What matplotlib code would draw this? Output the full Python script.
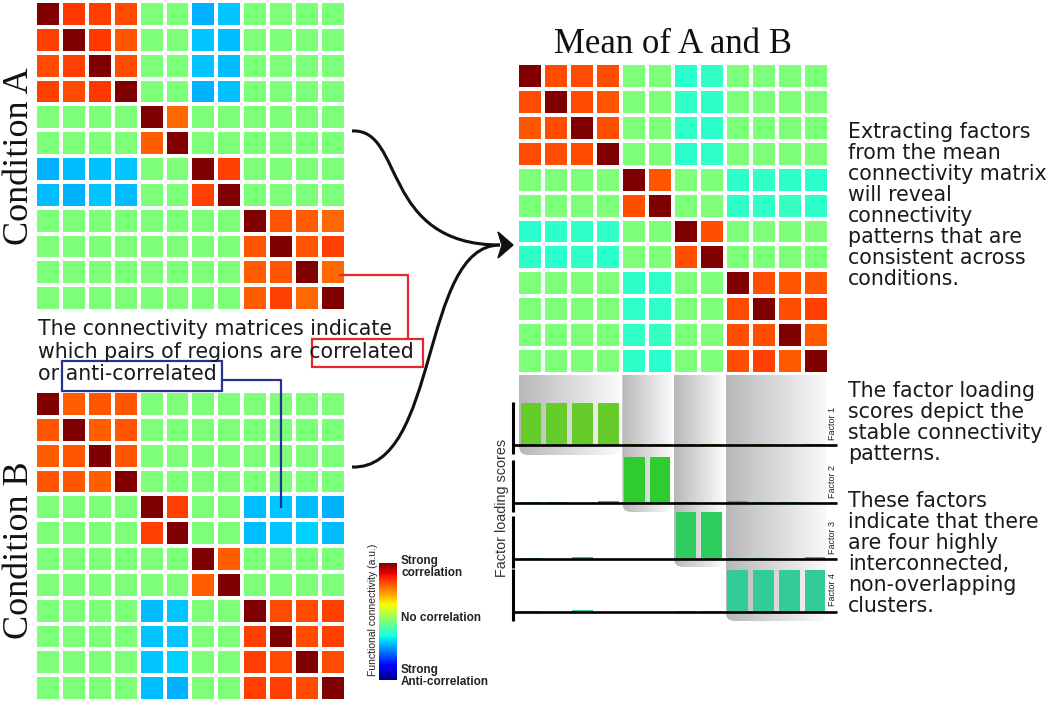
import matplotlib
matplotlib.use("Agg")
import matplotlib.pyplot as plt
import numpy as np
from matplotlib.path import Path
from matplotlib.patches import PathPatch, Polygon, Rectangle

# connectivity values (-1 = strong anti-correlation, 1 = strong correlation)
cond_a = [
    [1.00, 0.70, 0.68, 0.66, 0, 0, -0.40, -0.36, 0, 0, 0, 0],
    [0.68, 1.00, 0.70, 0.64, 0, 0, -0.36, -0.38, 0, 0, 0, 0],
    [0.66, 0.68, 1.00, 0.66, 0, 0, -0.36, -0.38, 0, 0, 0, 0],
    [0.68, 0.66, 0.70, 1.00, 0, 0, -0.40, -0.37, 0, 0, 0, 0],
    [0, 0, 0, 0, 1.00, 0.60, 0, 0, 0, 0, 0, 0],
    [0, 0, 0, 0, 0.62, 1.00, 0, 0, 0, 0, 0, 0],
    [-0.40, -0.38, -0.37, -0.36, 0, 0, 1.00, 0.68, 0, 0, 0, 0],
    [-0.38, -0.40, -0.36, -0.38, 0, 0, 0.68, 1.00, 0, 0, 0, 0],
    [0, 0, 0, 0, 0, 0, 0, 0, 1.00, 0.64, 0.62, 0.60],
    [0, 0, 0, 0, 0, 0, 0, 0, 0.64, 1.00, 0.64, 0.68],
    [0, 0, 0, 0, 0, 0, 0, 0, 0.62, 0.64, 1.00, 0.60],
    [0, 0, 0, 0, 0, 0, 0, 0, 0.62, 0.68, 0.60, 1.00],
]
cond_b = [
    [1.00, 0.62, 0.64, 0.64, 0, 0, 0, 0, 0, 0, 0, 0],
    [0.64, 1.00, 0.62, 0.64, 0, 0, 0, 0, 0, 0, 0, 0],
    [0.62, 0.64, 1.00, 0.64, 0, 0, 0, 0, 0, 0, 0, 0],
    [0.64, 0.64, 0.62, 1.00, 0, 0, 0, 0, 0, 0, 0, 0],
    [0, 0, 0, 0, 1.00, 0.68, 0, 0, -0.38, -0.36, -0.38, -0.40],
    [0, 0, 0, 0, 0.68, 1.00, 0, 0, -0.38, -0.36, -0.34, -0.38],
    [0, 0, 0, 0, 0, 0, 1.00, 0.62, 0, 0, 0, 0],
    [0, 0, 0, 0, 0, 0, 0.62, 1.00, 0, 0, 0, 0],
    [0, 0, 0, 0, -0.38, -0.36, 0, 0, 1.00, 0.66, 0.66, 0.68],
    [0, 0, 0, 0, -0.36, -0.36, 0, 0, 0.68, 1.00, 0.66, 0.68],
    [0, 0, 0, 0, -0.36, -0.34, 0, 0, 0.68, 0.66, 1.00, 0.66],
    [0, 0, 0, 0, -0.38, -0.40, 0, 0, 0.68, 0.68, 0.66, 1.00],
]

# factor loading scores per region
factor_1 = [0.84, 0.84, 0.84, 0.84, 0.02, 0.02, 0.03, 0.02, 0.00, 0.02, 0.01, 0.02]
factor_2 = [0.02, 0.02, 0.01, 0.04, 0.92, 0.92, 0.03, 0.01, 0.04, 0.02, 0.03, 0.01]
factor_3 = [0.03, 0.01, 0.04, 0.01, 0.01, 0.01, 0.94, 0.94, 0.02, 0.02, 0.01, 0.04]
factor_4 = [0.03, 0.01, 0.04, 0.01, 0.01, 0.01, 0.02, 0.02, 0.84, 0.84, 0.84, 0.84]
factor_names = ["Factor 1", "Factor 2", "Factor 3", "Factor 4"]
factor_colors = ["#66cc29", "#2ecc2e", "#2ecc5c", "#33cc99"]
# cluster (first region, last region) highlighted under each factor
clusters = [(0, 3), (4, 5), (6, 7), (8, 11)]

text_left = [
    "The connectivity matrices indicate",
    "which pairs of regions are correlated",
    "or anti-correlated",
]
text_mean = [
    "Extracting factors",
    "from the mean",
    "connectivity matrix",
    "will reveal",
    "connectivity",
    "patterns that are",
    "consistent across",
    "conditions.",
]
text_loadings = [
    "The factor loading",
    "scores depict the",
    "stable connectivity",
    "patterns.",
]
text_clusters = [
    "These factors",
    "indicate that there",
    "are four highly",
    "interconnected,",
    "non-overlapping",
    "clusters.",
]

W, H = 1050, 703
fig = plt.figure(figsize=(W / 100, H / 100), dpi=100)
fig.patch.set_facecolor("white")


def px_axes(x0, y0, x1, y1, **kw):
    return fig.add_axes([x0 / W, 1 - y1 / H, (x1 - x0) / W, (y1 - y0) / H], **kw)


def overlay(z):
    ax = fig.add_axes([0, 0, 1, 1], zorder=z)
    ax.set_xlim(0, W)
    ax.set_ylim(H, 0)
    ax.patch.set_alpha(0)
    ax.axis("off")
    return ax


ax_bg = overlay(0)
ax_fg = overlay(10)

# matrices
mean_ab = (np.array(cond_a) + np.array(cond_b)) / 2
boxes = [(35, 1, 346, 311), (35, 391, 346, 701), (517, 63, 829, 374)]
meshes = []
for mat, box in zip([cond_a, cond_b, mean_ab], boxes):
    ax = px_axes(*box, zorder=2)
    m = ax.pcolormesh(np.array(mat), cmap="jet", vmin=-1, vmax=1,
                      edgecolors="white", linewidth=1.7)
    ax.set_xlim(0, 12)
    ax.set_ylim(12, 0)
    ax.axis("off")
    meshes.append(m)

serif = ["Liberation Serif", "DejaVu Serif"]
ax_fg.text(20, 156, "Condition A", rotation=90, ha="center", va="center",
           fontsize=26, family=serif, color="#111111")
ax_fg.text(20, 550, "Condition B", rotation=90, ha="center", va="center",
           fontsize=26, family=serif, color="#111111")
ax_fg.text(673, 53, "Mean of A and B", ha="center", va="baseline",
           fontsize=25, family=serif, color="#111111")

# shaded cluster backgrounds behind the factor bars
cell = (828 - 518) / 12
shadow_bottoms = [455, 512, 567, 621]
grad = np.linspace(0.72, 0.98, 256)[None, :].repeat(2, axis=0)
for (c0, c1), yb in zip(clusters, shadow_bottoms):
    x0 = 518 + cell * c0 + 1
    x1 = 518 + cell * (c1 + 1) - 1
    y0, r = 375, 9
    verts = [(x0, y0), (x0, yb - r), (x0, yb), (x0 + r, yb), (x1 - r, yb),
             (x1, yb), (x1, yb - r), (x1, y0), (x0, y0)]
    codes = [Path.MOVETO, Path.LINETO, Path.CURVE3, Path.CURVE3, Path.LINETO,
             Path.CURVE3, Path.CURVE3, Path.LINETO, Path.CLOSEPOLY]
    patch = PathPatch(Path(verts, codes), facecolor="none", edgecolor="none")
    ax_bg.add_patch(patch)
    im = ax_bg.imshow(grad, cmap="gray", vmin=0, vmax=1, aspect="auto",
                      extent=[x0, x1, yb, y0], interpolation="bilinear")
    im.set_clip_path(patch)
ax_bg.set_xlim(0, W)
ax_bg.set_ylim(H, 0)

# factor loading bar panels
baselines = [445, 503, 559, 612]
xl = (513 - 518) / cell - 0.5
xr = (837 - 518) / cell - 0.5
for vals, name, col, yb in zip([factor_1, factor_2, factor_3, factor_4],
                               factor_names, factor_colors, baselines):
    ax = px_axes(513, yb - 50, 837, yb, zorder=1)
    ax.patch.set_alpha(0)
    ax.bar(np.arange(12), vals, width=0.8, color=col)
    ax.set_xlim(xl, xr)
    ax.set_ylim(0, 1)
    ax.axis("off")
    ax.plot([xl, xr], [0, 0], color="black", lw=1.9, clip_on=False,
            solid_capstyle="butt")
    ax.plot([xl, xl], [-0.17, 0.86], color="black", lw=2.2, clip_on=False,
            solid_capstyle="butt")
    ax.text(11.66, 0.44, name, rotation=90, ha="center", va="center",
            fontsize=6.5, family=["Liberation Sans", "DejaVu Sans"], color="#222222")

ax_fg.text(502, 508, "Factor loading scores", rotation=90, ha="center",
           va="center", fontsize=10.4, family=["Liberation Sans", "DejaVu Sans"],
           color="#333333")

# colour bar
cax = px_axes(379, 563, 397, 680)
cb = fig.colorbar(meshes[0], cax=cax, ticks=[])
cb.outline.set_visible(False)
narrow = ["Liberation Sans Narrow", "Liberation Sans", "DejaVu Sans"]
ax_fg.text(401, 555, "Strong\ncorrelation", ha="left", va="top", fontsize=8.5,
           family=narrow, fontweight="bold", color="#222222", linespacing=0.95)
ax_fg.text(401, 618, "No correlation", ha="left", va="center", fontsize=8.5,
           family=narrow, fontweight="bold", color="#222222")
ax_fg.text(401, 688, "Strong\nAnti-correlation", ha="left", va="bottom",
           fontsize=8.5, family=narrow, fontweight="bold", color="#222222",
           linespacing=0.95)
ax_fg.text(373, 610, "Functional connectivity (a.u.)", rotation=90, ha="center",
           va="center", fontsize=7.5, family=["Liberation Sans", "DejaVu Sans"],
           color="#222222")

# explanatory text
for i, line in enumerate(text_left):
    ax_fg.text(38, 335 + 22.5 * i, line, ha="left", va="baseline",
               fontsize=14.8, color="#1a1a1a")
for lines, y_first in [(text_mean, 138), (text_loadings, 397), (text_clusters, 507)]:
    for i, line in enumerate(lines):
        ax_fg.text(848, y_first + 21 * i, line, ha="left", va="baseline",
                   fontsize=14.8, color="#1a1a1a")

# annotation boxes and leader lines
red, blue = "#e8262d", "#2b3190"
ax_fg.add_patch(Rectangle((312, 339), 111, 28, fill=False, edgecolor=red, lw=1.6))
ax_fg.plot([340, 408, 408], [275, 275, 339], color=red, lw=1.6)
ax_fg.add_patch(Rectangle((62, 361), 160, 30, fill=False, edgecolor=blue, lw=1.6))
ax_fg.plot([222, 281, 281], [380, 380, 507], color=blue, lw=1.6)

# curved arrows into the mean matrix
for pts in [[(352, 131), (405, 128), (380, 245), (500, 245)],
            [(352, 467), (440, 470), (420, 245), (500, 245)]]:
    path = Path(pts, [Path.MOVETO, Path.CURVE4, Path.CURVE4, Path.CURVE4])
    ax_fg.add_patch(PathPatch(path, facecolor="none", edgecolor="#111111", lw=2.2))
ax_fg.add_patch(Polygon([(498, 232), (513, 245), (498, 258), (502, 245)],
                        closed=True, color="#111111"))

fig.savefig("out.png", dpi=100, facecolor="white")
